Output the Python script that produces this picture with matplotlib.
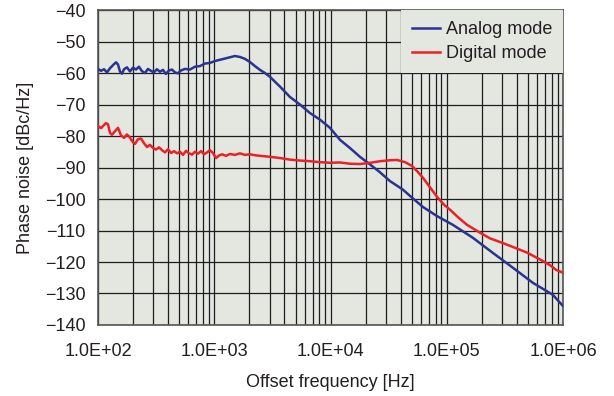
import numpy as np
import matplotlib
matplotlib.use("Agg")
import matplotlib.pyplot as plt
from matplotlib.ticker import LogLocator, FixedLocator, FixedFormatter, NullFormatter

plt.rcParams['font.family'] = ['Liberation Sans', 'DejaVu Sans']

# Analog mode: (log10 frequency, phase noise dBc/Hz)
analog_logf = [2.000, 2.026, 2.052, 2.077, 2.103, 2.129, 2.155, 2.172, 2.189, 2.206, 2.224, 2.249, 2.275,
               2.301, 2.327, 2.352, 2.378, 2.404, 2.430, 2.455, 2.481, 2.507, 2.533, 2.559, 2.584, 2.610,
               2.636, 2.662, 2.687, 2.713, 2.748, 2.791, 2.834, 2.877, 2.920, 2.963, 3.006, 3.049, 3.092,
               3.135, 3.178, 3.221, 3.264, 3.307, 3.350, 3.393, 3.436, 3.479, 3.565, 3.651, 3.737, 3.823,
               3.909, 3.995, 4.081, 4.167, 4.253, 4.339, 4.425, 4.511, 4.622, 4.708, 4.794, 4.915, 5.052,
               5.224, 5.396, 5.568, 5.740, 5.912, 6.000]
analog_db = [-58.7, -59.3, -58.8, -59.8, -58.5, -57.5, -56.6, -57.3, -59.5, -60.2, -58.8, -58.2, -59.5,
             -58.3, -58.9, -58.0, -59.4, -60.0, -58.7, -59.3, -59.8, -58.8, -59.6, -59.0, -60.3, -59.2,
             -58.9, -59.8, -60.1, -59.2, -58.7, -58.9, -58.0, -57.8, -57.0, -56.8, -56.2, -55.8, -55.4,
             -55.0, -54.6, -54.9, -55.5, -56.5, -57.8, -59.0, -60.0, -61.2, -64.3, -67.6, -70.0, -72.7,
             -74.8, -77.4, -81.2, -83.8, -86.6, -89.0, -91.5, -94.3, -97.0, -99.8, -102.5, -105.4, -108.2,
             -112.3, -117.1, -121.8, -126.6, -130.4, -134.0]

# Digital mode: (log10 frequency, phase noise dBc/Hz)
digital_logf = [2.000, 2.026, 2.052, 2.069, 2.086, 2.103, 2.120, 2.146, 2.172, 2.198, 2.224, 2.249, 2.275,
                2.301, 2.318, 2.344, 2.370, 2.396, 2.422, 2.447, 2.473, 2.499, 2.525, 2.551, 2.576, 2.602,
                2.628, 2.654, 2.680, 2.705, 2.731, 2.757, 2.783, 2.809, 2.834, 2.860, 2.886, 2.912, 2.938,
                2.963, 2.989, 3.015, 3.041, 3.067, 3.101, 3.135, 3.178, 3.221, 3.264, 3.307, 3.350, 3.394,
                3.480, 3.566, 3.652, 3.738, 3.824, 3.910, 3.996, 4.082, 4.168, 4.254, 4.340, 4.426, 4.512,
                4.572, 4.641, 4.701, 4.753, 4.796, 4.856, 4.916, 4.976, 5.028, 5.097, 5.174, 5.286, 5.372,
                5.484, 5.587, 5.690, 5.802, 5.888, 5.940, 6.000]
digital_db = [-76.8, -77.5, -76.5, -75.9, -76.3, -79.0, -79.6, -78.5, -77.4, -79.8, -80.6, -79.5, -80.5,
              -82.0, -82.5, -81.0, -80.8, -82.3, -83.5, -82.8, -83.8, -84.3, -83.6, -84.5, -85.2, -84.2,
              -85.4, -84.8, -85.5, -85.0, -86.0, -84.7, -85.5, -85.9, -85.0, -85.6, -84.8, -85.8, -85.2,
              -84.5, -85.4, -87.0, -86.2, -85.8, -86.3, -85.7, -86.0, -85.5, -86.0, -85.8, -86.1, -86.3,
              -86.6, -87.0, -87.5, -87.8, -88.0, -88.3, -88.5, -88.4, -88.8, -88.9, -88.5, -88.0, -87.7,
              -87.6, -88.3, -89.5, -91.5, -93.3, -96.3, -99.3, -101.8, -103.4, -105.8, -108.2, -110.7,
              -112.5, -114.0, -115.5, -117.0, -119.2, -121.0, -122.5, -123.4]

x_ticks = [1e2, 1e3, 1e4, 1e5, 1e6]
x_labels = ["1.0E+02", "1.0E+03", "1.0E+04", "1.0E+05", "1.0E+06"]
y_ticks = list(range(-140, -30, 10))

analog_f = [10 ** v for v in analog_logf]
digital_f = [10 ** v for v in digital_logf]

fig = plt.figure(figsize=(6.14, 3.96), dpi=100)
ax = fig.add_axes([0.1596, 0.1793, 0.917 - 0.1596, 0.9747 - 0.1793])
bg = '#e3e7e0'
ax.set_facecolor(bg)

ax.plot(analog_f, analog_db, color='#2b3391', lw=1.8, label='Analog mode', zorder=3)
ax.plot(digital_f, digital_db, color='#ea2127', lw=1.8, label='Digital mode', zorder=3)

ax.set_xscale('log')
ax.set_xlim(1e2, 1e6)
ax.set_ylim(-140, -40)
ax.xaxis.set_major_locator(FixedLocator(x_ticks))
ax.xaxis.set_major_formatter(FixedFormatter(x_labels))
ax.xaxis.set_minor_locator(LogLocator(base=10, subs=np.arange(2, 10)))
ax.xaxis.set_minor_formatter(NullFormatter())
ax.set_yticks(y_ticks)
ax.set_axisbelow(True)
ax.grid(True, which='both', axis='x', color='#1e1e1e', lw=0.9)
ax.grid(True, which='major', axis='y', color='#1e1e1e', lw=0.9)
ax.tick_params(which='both', length=0, labelsize=13, colors='#231f20')
ax.tick_params(axis='x', pad=13)
ax.tick_params(axis='y', pad=9)
for s in ax.spines.values():
    s.set_color('#555555')
    s.set_linewidth(1.2)

ax.set_xlabel('Offset frequency [Hz]', fontsize=13, color='#231f20', labelpad=10)
ax.set_ylabel('Phase noise [dBc/Hz]', fontsize=13, color='#231f20', labelpad=7.5)

leg = ax.legend(loc='upper right', fontsize=13, frameon=True, fancybox=False,
                facecolor=bg, edgecolor='none', framealpha=1, borderaxespad=0.0,
                handlelength=1.6, handletextpad=0.3, labelspacing=0.42, borderpad=0.6)
leg.set_zorder(5)
for t in leg.get_texts():
    t.set_color('#231f20')

fig.savefig('out.png', dpi=100)
